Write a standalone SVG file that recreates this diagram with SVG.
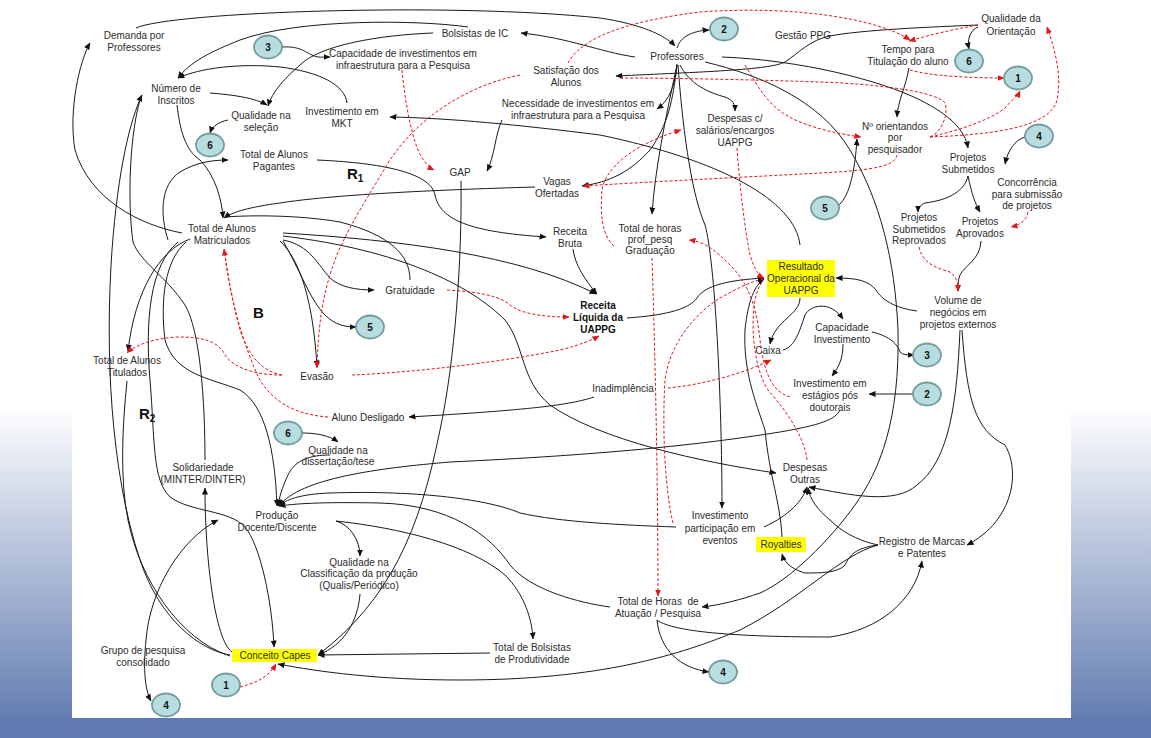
<svg xmlns="http://www.w3.org/2000/svg" width="1151" height="738" viewBox="0 0 1151 738">
<defs>
<linearGradient id="bg" x1="0" y1="0" x2="0" y2="1">
<stop offset="0" stop-color="#ffffff"/>
<stop offset="0.55" stop-color="#ffffff"/>
<stop offset="1" stop-color="#5a76ad"/>
</linearGradient>
<marker id="ab" markerWidth="7" markerHeight="6" refX="6.5" refY="3" orient="auto" markerUnits="userSpaceOnUse"><path d="M0,0 L7,3 L0,6 z" fill="#111"/></marker>
<marker id="abs" markerWidth="7" markerHeight="6" refX="6.5" refY="3" orient="auto-start-reverse" markerUnits="userSpaceOnUse"><path d="M0,0 L7,3 L0,6 z" fill="#111"/></marker>
<marker id="ar" markerWidth="7" markerHeight="6" refX="6.5" refY="3" orient="auto" markerUnits="userSpaceOnUse"><path d="M0,0 L7,3 L0,6 z" fill="#e3161b"/></marker>
</defs>
<style>
.t{font-family:"Liberation Sans",Arial,sans-serif;font-size:10px;fill:#2b2b2b;text-anchor:middle}
.tb{font-family:"Liberation Sans",Arial,sans-serif;font-size:10px;fill:#111;text-anchor:middle;font-weight:bold}
.lab{font-family:"Liberation Sans",Arial,sans-serif;font-size:15px;fill:#111;font-weight:bold}
.num{font-family:"Liberation Sans",Arial,sans-serif;font-size:10px;fill:#111;text-anchor:middle;font-weight:bold}
.e{fill:#b8dde0;stroke:#729c9d;stroke-width:1.8}
.y{fill:#ffff00}
.c path{fill:none;stroke:#1a1a1a;stroke-width:1}
.c .r{stroke:#e3161b;stroke-dasharray:3 2}
</style>
<rect x="0" y="0" width="1151" height="738" fill="url(#bg)"/>
<rect x="0" y="718" width="1151" height="20" fill="#5f7bb1"/>
<rect x="72" y="0" width="999" height="718" fill="#ffffff"/>

<g id="connectors" class="c">
<path marker-end="url(#ab)" d="M136 28 C170 12 450 2 600 18 C640 24 665 35 675 46"/>
<path marker-end="url(#ab)" d="M468 27 C420 20 300 18 240 40 C210 52 190 62 178 78"/>
<path marker-end="url(#ab)" d="M347 103 C345 85 320 72 280 67 C240 63 200 68 178 78"/>
<path marker-end="url(#ab)" d="M635 57 C600 52 570 38 521 33"/>
<path marker-end="url(#ab)" d="M282 47 C300 46 305 52 312 55 C318 58 322 57 330 57"/>
<path marker-end="url(#ab)" d="M433 33 C380 35 320 45 300 65 C285 78 272 92 268 106"/>
<path marker-end="url(#ab)" d="M210 93 C235 95 255 98 267 105"/>
<path marker-end="url(#ab)" d="M228 120 C218 122 212 127 210 133"/>
<path marker-end="url(#ab)" d="M177 105 C180 130 185 150 200 160 C215 175 222 200 223 218"/>
<path marker-end="url(#ab)" d="M182 233 C140 225 90 200 75 150 C68 110 80 60 90 43"/>
<path marker-end="url(#ab)" d="M168 240 C160 215 160 185 180 172 C195 163 210 160 228 160"/>
<path marker-end="url(#ab)" d="M317 160 C360 162 430 168 435 195 C440 220 470 232 546 237"/>
<path marker-end="url(#ab)" d="M535 187 C430 190 330 195 280 203 C250 207 232 212 224 218"/>
<path d="M410 280 C410 255 390 235 340 222 C300 215 250 215 226 217"/>
<path marker-end="url(#ab)" d="M283 233 C400 240 520 255 596 294"/>
<path marker-end="url(#ab)" d="M573 249 C575 265 585 280 597 294"/>
<path marker-end="url(#ab)" d="M283 240 C310 245 318 265 330 278 C340 287 355 290 374 290"/>
<path marker-end="url(#ab)" d="M283 241 C300 270 310 300 325 315 C335 325 345 327 356 327"/>
<path marker-end="url(#ab)" d="M280 241 C300 260 313 300 317 367"/>
<path marker-end="url(#ab)" d="M283 236 C400 250 470 285 505 320 C525 345 520 380 550 405 C600 440 700 462 776 473"/>
<path marker-end="url(#ab)" d="M190 239 C160 250 135 290 128 351"/>
<path marker-end="url(#ab)" d="M186 242 C165 260 160 300 165 340 C175 375 210 378 240 390 C265 405 275 450 277 506"/>
<path marker-end="url(#ab)" d="M178 242 C150 265 145 320 150 380 C155 440 152 480 170 497 C190 512 230 510 245 527 C260 545 272 600 274 647"/>
<path marker-end="url(#ab)" d="M230 655 C200 650 160 620 140 560 C110 470 105 350 112 250 C118 170 130 120 142 95"/>
<path marker-end="url(#ab)" d="M232 652 C215 640 205 560 205 488"/>
<path d="M205 460 C205 400 200 330 185 305 C165 275 140 262 133 242 C127 200 130 130 141 97"/>
<path d="M127 381 C122 430 120 480 128 520 C140 580 180 640 230 656"/>
<path marker-end="url(#ab)" d="M302 433 C318 433 330 436 338 442"/>
<path marker-end="url(#ab)" d="M330 455 C310 455 295 460 288 475 C282 488 279 498 278 506"/>
<path marker-start="url(#abs)" marker-end="url(#abs)" d="M218 520 C180 540 150 590 146 640 C143 670 145 690 151 701"/>
<path marker-end="url(#ab)" d="M840 410 C835 420 820 425 780 432 C700 445 600 455 450 462 C380 468 300 478 279 506"/>
<path marker-end="url(#ab)" d="M676 527 C620 525 560 522 520 513 C490 500 420 490 330 493 C300 494 285 500 279 506"/>
<path marker-end="url(#ab)" d="M610 607 C580 603 530 590 510 565 C490 535 450 505 380 503 C330 502 300 503 279 506"/>
<path marker-end="url(#ab)" d="M336 521 C350 525 360 540 360 556"/>
<path marker-end="url(#ab)" d="M336 521 C400 528 470 545 505 575 C525 595 532 620 533 639"/>
<path marker-end="url(#ab)" d="M360 594 C358 620 345 645 318 655"/>
<path marker-end="url(#ab)" d="M461 181 C462 260 455 360 440 430 C420 530 390 600 318 655"/>
<path marker-end="url(#ab)" d="M490 653 L318 655"/>
<path marker-end="url(#ab)" d="M878 545 C840 555 800 600 740 630 C680 655 600 680 460 680 C380 680 320 672 278 664"/>
<path marker-end="url(#ab)" d="M502 120 C495 135 495 155 487 171"/>
<path marker-end="url(#ab)" d="M677 64 C675 85 670 100 657 109"/>
<path marker-end="url(#ab)" d="M978 25 C930 27 860 30 830 36 C810 40 800 52 785 62 C770 70 700 72 616 76"/>
<path marker-end="url(#ab)" d="M677 48 C680 38 690 31 709 30"/>
<path marker-end="url(#ab)" d="M680 65 C690 85 710 93 725 97 C733 100 735 104 735 111"/>
<path marker-end="url(#ab)" d="M677 65 C673 100 668 125 650 150 C630 172 610 182 582 186"/>
<path marker-end="url(#ab)" d="M677 65 C665 120 655 170 652 214"/>
<path marker-end="url(#ab)" d="M678 65 C682 120 690 190 705 225 C715 260 722 400 722 508"/>
<path marker-end="url(#ab)" d="M722 57 C800 60 880 80 920 100 C950 115 965 130 968 148"/>
<path marker-end="url(#ab)" d="M705 62 C760 75 820 100 850 150 C880 200 895 260 898 330 C900 420 880 470 855 505 C830 540 790 580 760 593 C740 600 720 605 702 607"/>
<path marker-end="url(#ab)" d="M978 27 C970 30 967 40 969 49"/>
<path marker-end="url(#ab)" d="M909 68 C905 90 898 100 897 117"/>
<path marker-end="url(#ab)" d="M839 205 C850 195 855 170 857 139"/>
<path marker-end="url(#ab)" d="M1025 137 C1015 140 1008 150 1005 164"/>
<path marker-end="url(#ab)" d="M968 176 C965 190 950 200 925 203 C920 205 918 208 918 212"/>
<path marker-end="url(#ab)" d="M968 176 C972 195 975 203 980 212"/>
<path marker-end="url(#ab)" d="M981 241 C980 260 965 265 960 275 C958 280 958 285 958 291"/>
<path marker-end="url(#ab)" d="M917 311 C895 308 882 300 876 290 C868 280 855 278 836 278"/>
<path marker-end="url(#ab)" d="M800 245 C795 200 720 160 600 135 C520 125 450 118 390 117"/>
<path marker-end="url(#ab)" d="M800 298 C800 315 775 320 770 344"/>
<path marker-end="url(#ab)" d="M783 350 C795 347 800 330 805 315 C810 305 830 300 843 319"/>
<path marker-end="url(#ab)" d="M872 332 C890 336 898 345 900 352 C903 355 908 355 914 355"/>
<path marker-end="url(#ab)" d="M843 344 C843 360 838 368 832 376"/>
<path marker-end="url(#ab)" d="M913 394 L869 394"/>
<path marker-end="url(#ab)" d="M627 318 C670 315 690 308 697 298 C705 285 730 280 764 278"/>
<path marker-end="url(#ab)" d="M782 537 C780 500 770 480 765 430 C755 400 743 370 745 330 C748 300 755 285 764 279"/>
<path marker-end="url(#ab)" d="M594 397 C570 405 530 410 409 417"/>
<path marker-end="url(#ab)" d="M764 527 C790 515 803 500 807 487"/>
<path marker-end="url(#ab)" d="M960 330 C957 400 950 460 917 485 C895 505 850 495 809 487"/>
<path marker-end="url(#ab)" d="M962 330 C967 400 975 430 1005 445 C1020 470 1015 520 967 545"/>
<path marker-end="url(#ab)" d="M657 620 C670 630 720 637 830 637 C880 630 915 600 922 561"/>
<path marker-end="url(#ab)" d="M657 620 C660 650 680 668 709 672"/>
<path marker-end="url(#ab)" d="M878 545 C855 548 850 555 845 565 C838 573 820 573 805 573 C795 570 785 565 782 554"/>
<path marker-end="url(#ab)" d="M878 545 C855 540 840 530 830 520 C818 510 810 500 808 488"/>

<path class="r" marker-end="url(#ar)" d="M568 63 C580 40 620 22 700 12 C800 5 880 20 910 40"/>
<path class="r" marker-end="url(#ar)" d="M520 75 C470 85 420 115 390 160 C360 210 340 240 330 275 C322 300 318 330 317 368"/>
<path class="r" marker-end="url(#ar)" d="M402 70 C405 100 410 130 418 150 C424 163 430 168 434 170"/>
<path class="r" marker-end="url(#ar)" d="M897 155 C895 165 880 170 820 173 C750 177 680 180 583 186"/>
<path class="r" marker-end="url(#ar)" d="M745 65 C760 90 770 110 800 122 C820 130 840 134 861 137"/>
<path class="r" d="M930 137 C945 130 948 110 945 103 C940 95 900 85 820 82 C760 80 680 78 618 78"/>
<path class="r" marker-end="url(#ar)" d="M930 137 C960 130 990 120 1005 108 C1012 100 1018 95 1020 91"/>
<path class="r" marker-end="url(#ar)" d="M930 137 C980 135 1050 130 1057 100 C1062 75 1055 50 1047 27"/>
<path class="r" marker-end="url(#ar)" d="M910 70 C930 76 970 78 1004 78"/>
<path class="r" marker-end="url(#ar)" d="M978 25 C950 30 930 35 909 41"/>
<path class="r" marker-end="url(#ar)" d="M1028 212 C1027 220 1020 225 1011 227"/>
<path class="r" marker-end="url(#ar)" d="M919 247 C922 262 935 268 950 272 C957 277 958 283 958 291"/>
<path class="r" marker-end="url(#ar)" d="M447 290 C480 292 500 296 510 305 C520 313 540 317 569 317"/>
<path class="r" marker-end="url(#ar)" d="M352 375 C420 372 500 362 560 350 C580 345 592 340 599 336"/>
<path class="r" marker-end="url(#ar)" d="M282 375 C260 375 235 370 225 355 C218 340 200 337 178 337 C155 338 135 345 127 353"/>
<path class="r" marker-end="url(#ar)" d="M282 375 C265 372 250 360 240 330 C232 300 227 270 224 249"/>
<path class="r" d="M328 417 C300 415 275 405 260 380 C245 350 230 300 225 255"/>
<path class="r" marker-end="url(#ar)" d="M652 258 C655 350 658 480 658 596"/>
<path class="r" marker-end="url(#ar)" d="M614 246 C602 235 600 215 602 190 C605 170 630 145 681 130"/>
<path class="r" marker-end="url(#ar)" d="M790 397 C775 392 765 380 760 340 C756 300 745 280 730 265 C715 250 705 242 689 240"/>
<path class="r" d="M673 523 C665 490 662 430 665 380 C670 340 700 310 720 298 C740 287 750 282 763 279"/>
<path class="r" d="M807 460 C805 440 790 415 768 390 C755 370 750 330 755 300 C757 290 760 285 763 280"/>
<path class="r" marker-end="url(#ar)" d="M737 148 C740 190 745 230 750 255 C754 268 758 275 764 278"/>
<path class="r" marker-end="url(#ar)" d="M668 388 C700 385 740 375 771 360"/>
<path class="r" marker-end="url(#ar)" d="M240 687 C255 683 268 678 276 664"/>
</g>

<g id="demanda"><text class="t" x="134" y="39">Demanda por</text><text class="t" x="134" y="51">Professores</text></g>
<g id="inscritos"><text class="t" x="176" y="92">Número de</text><text class="t" x="176" y="104">Inscritos</text></g>
<g id="qual-selecao"><text class="t" x="261" y="119">Qualidade na</text><text class="t" x="261" y="131">seleção</text></g>
<g id="pagantes"><text class="t" x="274" y="158">Total de Alunos</text><text class="t" x="274" y="170">Pagantes</text></g>
<g id="matriculados"><text class="t" x="222" y="232">Total de Alunos</text><text class="t" x="222" y="244">Matriculados</text></g>
<g id="mkt"><text class="t" x="342" y="115">Investimento em</text><text class="t" x="342" y="127">MKT</text></g>
<g id="bolsistas-ic"><text class="t" x="475" y="37">Bolsistas de IC</text></g>
<g id="capacidade-infra"><text class="t" x="403" y="57">Capacidade de investimentos em</text><text class="t" x="403" y="69">infraestrutura para a Pesquisa</text></g>
<g id="satisfacao"><text class="t" x="566" y="74">Satisfação dos</text><text class="t" x="566" y="86">Alunos</text></g>
<g id="necessidade"><text class="t" x="578" y="107">Necessidade de investimentos em</text><text class="t" x="578" y="119">infraestrutura para a Pesquisa</text></g>
<g id="gap"><text class="t" x="460" y="176">GAP</text></g>
<g id="vagas"><text class="t" x="557" y="185">Vagas</text><text class="t" x="557" y="197">Ofertadas</text></g>
<g id="receita-bruta"><text class="t" x="570" y="235">Receita</text><text class="t" x="570" y="247">Bruta</text></g>
<g id="professores"><text class="t" x="677" y="60">Professores</text></g>
<g id="gestao"><text class="t" x="803" y="39">Gestão PPG</text></g>
<g id="despesas-sal"><text class="t" x="735" y="122">Despesas c/</text><text class="t" x="735" y="134">salários/encargos</text><text class="t" x="735" y="146">UAPPG</text></g>
<g id="horas-prof"><text class="t" x="650" y="232">Total de horas</text><text class="t" x="650" y="243">prof_pesq</text><text class="t" x="650" y="254">Graduação</text></g>
<g id="qual-orient"><text class="t" x="1011" y="22">Qualidade da</text><text class="t" x="1011" y="35">Orientação</text></g>
<g id="tempo"><text class="t" x="908" y="53">Tempo para</text><text class="t" x="908" y="65">Titulação do aluno</text></g>
<g id="orientandos"><text class="t" x="895" y="130">Nº orientandos</text><text class="t" x="895" y="141">por</text><text class="t" x="895" y="153">pesquisador</text></g>
<g id="proj-sub"><text class="t" x="968" y="161">Projetos</text><text class="t" x="968" y="173">Submetidos</text></g>
<g id="concorrencia"><text class="t" x="1027" y="186">Concorrência</text><text class="t" x="1027" y="198">para submissão</text><text class="t" x="1027" y="209">de projetos</text></g>
<g id="reprovados"><text class="t" x="919" y="221">Projetos</text><text class="t" x="919" y="233">Submetidos</text><text class="t" x="919" y="244">Reprovados</text></g>
<g id="aprovados"><text class="t" x="980" y="225">Projetos</text><text class="t" x="980" y="237">Aprovados</text></g>
<g id="resultado"><rect class="y" x="767" y="260" width="68" height="37"/><text class="t" x="801" y="270">Resultado</text><text class="t" x="801" y="282">Operacional da</text><text class="t" x="801" y="294">UAPPG</text></g>
<g id="volume"><text class="t" x="958" y="304">Volume de</text><text class="t" x="958" y="316">negócios em</text><text class="t" x="958" y="328">projetos externos</text></g>
<g id="cap-invest"><text class="t" x="842" y="331">Capacidade</text><text class="t" x="842" y="343">Investimento</text></g>
<g id="caixa"><text class="t" x="768" y="354">Caixa</text></g>
<g id="estagios"><text class="t" x="830" y="387">Investimento em</text><text class="t" x="830" y="399">estágios pós</text><text class="t" x="830" y="411">doutorais</text></g>
<g id="inadimplencia"><text class="t" x="623" y="392">Inadimplência</text></g>
<g id="gratuidade"><text class="t" x="410" y="294">Gratuidade</text></g>
<g id="receita-liquida"><text class="tb" x="598" y="309">Receita</text><text class="tb" x="598" y="321">Líquida da</text><text class="tb" x="598" y="333">UAPPG</text></g>
<g id="evasao"><text class="t" x="317" y="380">Evasão</text></g>
<g id="titulados"><text class="t" x="127" y="364">Total de Alunos</text><text class="t" x="127" y="376">Titulados</text></g>
<g id="aluno-desligado"><text class="t" x="368" y="421">Aluno Desligado</text></g>
<g id="qual-dissert"><text class="t" x="338" y="454">Qualidade na</text><text class="t" x="338" y="465">dissertação/tese</text></g>
<g id="solidariedade"><text class="t" x="203" y="471">Solidariedade</text><text class="t" x="203" y="483">(MINTER/DINTER)</text></g>
<g id="despesas-outras"><text class="t" x="805" y="471">Despesas</text><text class="t" x="805" y="483">Outras</text></g>
<g id="producao"><text class="t" x="277" y="519">Produção</text><text class="t" x="277" y="531">Docente/Discente</text></g>
<g id="inv-eventos"><text class="t" x="720" y="519">Investimento</text><text class="t" x="720" y="532">participação em</text><text class="t" x="720" y="544">eventos</text></g>
<g id="royalties"><rect class="y" x="756" y="537" width="50" height="15"/><text class="t" x="781" y="548">Royalties</text></g>
<g id="registro"><text class="t" x="922" y="545">Registro de Marcas</text><text class="t" x="922" y="557">e Patentes</text></g>
<g id="qual-class"><text class="t" x="359" y="566">Qualidade na</text><text class="t" x="359" y="577">Classificação da produção</text><text class="t" x="359" y="589">(Qualis/Periódico)</text></g>
<g id="horas-atuacao"><text class="t" x="658" y="605" xml:space="preserve">Total de Horas  de</text><text class="t" x="658" y="617">Atuação / Pesquisa</text></g>
<g id="grupo"><text class="t" x="143" y="654">Grupo de pesquisa</text><text class="t" x="143" y="666">consolidado</text></g>
<g id="conceito"><rect class="y" x="232" y="649" width="85" height="13"/><text class="t" x="275" y="659">Conceito Capes</text></g>
<g id="bolsistas-prod"><text class="t" x="532" y="651">Total de Bolsistas</text><text class="t" x="532" y="663">de Produtividade</text></g>

<g id="c3a"><ellipse class="e" cx="268" cy="47" rx="14" ry="11.5"/><text class="num" x="268" y="51">3</text></g>
<g id="c6a"><ellipse class="e" cx="210" cy="145" rx="14" ry="11.5"/><text class="num" x="210" y="149">6</text></g>
<g id="c2a"><ellipse class="e" cx="724" cy="29" rx="14" ry="11.5"/><text class="num" x="724" y="33">2</text></g>
<g id="c5a"><ellipse class="e" cx="825" cy="208" rx="14" ry="11.5"/><text class="num" x="825" y="212">5</text></g>
<g id="c6b"><ellipse class="e" cx="969" cy="61" rx="14" ry="11.5"/><text class="num" x="969" y="65">6</text></g>
<g id="c1a"><ellipse class="e" cx="1018" cy="78" rx="14" ry="11.5"/><text class="num" x="1018" y="82">1</text></g>
<g id="c4a"><ellipse class="e" cx="1039" cy="136" rx="14" ry="11.5"/><text class="num" x="1039" y="140">4</text></g>
<g id="c3b"><ellipse class="e" cx="927" cy="355" rx="14" ry="11.5"/><text class="num" x="927" y="359">3</text></g>
<g id="c2b"><ellipse class="e" cx="927" cy="394" rx="14" ry="11.5"/><text class="num" x="927" y="398">2</text></g>
<g id="c5b"><ellipse class="e" cx="370" cy="327" rx="14" ry="11.5"/><text class="num" x="370" y="331">5</text></g>
<g id="c6c"><ellipse class="e" cx="288" cy="433" rx="14" ry="11.5"/><text class="num" x="288" y="437">6</text></g>
<g id="c1b"><ellipse class="e" cx="226" cy="685" rx="14" ry="11.5"/><text class="num" x="226" y="689">1</text></g>
<g id="c4b"><ellipse class="e" cx="166" cy="705" rx="14" ry="11.5"/><text class="num" x="166" y="709">4</text></g>
<g id="c4c"><ellipse class="e" cx="723" cy="672" rx="14" ry="11.5"/><text class="num" x="723" y="676">4</text></g>

<g id="loop-labels">
<text class="lab" x="347" y="179">R<tspan font-size="10" dy="3">1</tspan></text>
<text class="lab" x="253" y="318">B</text>
<text class="lab" x="139" y="419">R<tspan font-size="10" dy="3">2</tspan></text>
</g>
</svg>
